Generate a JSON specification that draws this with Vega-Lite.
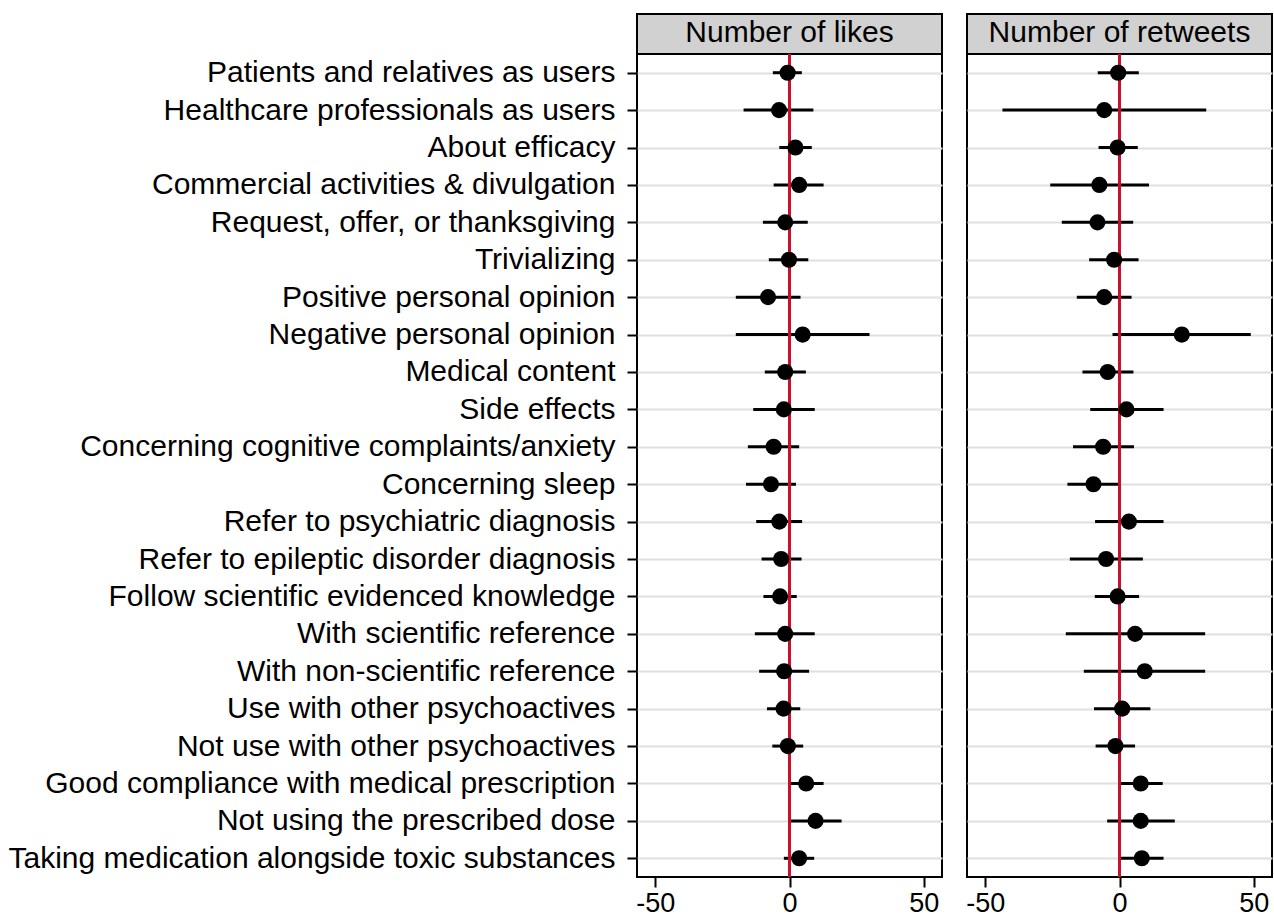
{
  "$schema": "https://vega.github.io/schema/vega-lite/v6.json",
  "padding": {"left": 6, "top": 13, "right": 1, "bottom": 2},
  "background": "white",
  "config": {
    "font": "Liberation Sans",
    "view": {"stroke": "black", "strokeWidth": 2},
    "axis": {"labelColor": "black", "tickColor": "black", "titleColor": "black"}
  },
  "datasets": {
    "est": [
      {"label": "Patients and relatives as users", "panel": "likes", "est": -0.7, "lo": -6.2, "hi": 4.6},
      {"label": "Healthcare professionals as users", "panel": "likes", "est": -3.9, "lo": -17.1, "hi": 8.9},
      {"label": "About efficacy", "panel": "likes", "est": 2.2, "lo": -3.8, "hi": 8.3},
      {"label": "Commercial activities & divulgation", "panel": "likes", "est": 3.6, "lo": -5.9, "hi": 12.7},
      {"label": "Request, offer, or thanksgiving", "panel": "likes", "est": -1.6, "lo": -9.9, "hi": 6.8},
      {"label": "Trivializing", "panel": "likes", "est": -0.2, "lo": -7.7, "hi": 7.0},
      {"label": "Positive personal opinion", "panel": "likes", "est": -8.0, "lo": -20.0, "hi": 4.1},
      {"label": "Negative personal opinion", "panel": "likes", "est": 4.9, "lo": -20.0, "hi": 29.8},
      {"label": "Medical content", "panel": "likes", "est": -1.6, "lo": -9.2, "hi": 6.1},
      {"label": "Side effects", "panel": "likes", "est": -2.1, "lo": -13.5, "hi": 9.4},
      {"label": "Concerning cognitive complaints/anxiety", "panel": "likes", "est": -5.9, "lo": -15.5, "hi": 3.6},
      {"label": "Concerning sleep", "panel": "likes", "est": -6.9, "lo": -16.2, "hi": 2.4},
      {"label": "Refer to psychiatric diagnosis", "panel": "likes", "est": -3.8, "lo": -12.4, "hi": 4.7},
      {"label": "Refer to epileptic disorder diagnosis", "panel": "likes", "est": -3.1, "lo": -10.4, "hi": 4.5},
      {"label": "Follow scientific evidenced knowledge", "panel": "likes", "est": -3.5, "lo": -9.7, "hi": 2.7},
      {"label": "With scientific reference", "panel": "likes", "est": -1.6, "lo": -12.9, "hi": 9.4},
      {"label": "With non-scientific reference", "panel": "likes", "est": -2.0, "lo": -11.3, "hi": 7.3},
      {"label": "Use with other psychoactives", "panel": "likes", "est": -2.2, "lo": -8.4, "hi": 4.0},
      {"label": "Not use with other psychoactives", "panel": "likes", "est": -0.6, "lo": -6.4, "hi": 5.1},
      {"label": "Good compliance with medical prescription", "panel": "likes", "est": 6.2, "lo": -0.2, "hi": 12.7},
      {"label": "Not using the prescribed dose", "panel": "likes", "est": 9.7, "lo": -0.5, "hi": 19.4},
      {"label": "Taking medication alongside toxic substances", "panel": "likes", "est": 3.6, "lo": -2.1, "hi": 9.2},
      {"label": "Patients and relatives as users", "panel": "retweets", "est": -0.5, "lo": -8.1, "hi": 7.2},
      {"label": "Healthcare professionals as users", "panel": "retweets", "est": -5.7, "lo": -43.6, "hi": 32.3},
      {"label": "About efficacy", "panel": "retweets", "est": -0.7, "lo": -7.8, "hi": 6.8},
      {"label": "Commercial activities & divulgation", "panel": "retweets", "est": -7.5, "lo": -25.8, "hi": 11.0},
      {"label": "Request, offer, or thanksgiving", "panel": "retweets", "est": -8.2, "lo": -21.5, "hi": 5.1},
      {"label": "Trivializing", "panel": "retweets", "est": -2.0, "lo": -11.3, "hi": 7.1},
      {"label": "Positive personal opinion", "panel": "retweets", "est": -5.7, "lo": -15.9, "hi": 4.5},
      {"label": "Negative personal opinion", "panel": "retweets", "est": 23.2, "lo": -2.6, "hi": 48.9},
      {"label": "Medical content", "panel": "retweets", "est": -4.4, "lo": -13.8, "hi": 5.2},
      {"label": "Side effects", "panel": "retweets", "est": 2.6, "lo": -10.9, "hi": 16.4},
      {"label": "Concerning cognitive complaints/anxiety", "panel": "retweets", "est": -6.1, "lo": -17.3, "hi": 5.4},
      {"label": "Concerning sleep", "panel": "retweets", "est": -9.7, "lo": -19.4, "hi": 0.0},
      {"label": "Refer to psychiatric diagnosis", "panel": "retweets", "est": 3.5, "lo": -9.1, "hi": 16.4},
      {"label": "Refer to epileptic disorder diagnosis", "panel": "retweets", "est": -5.0, "lo": -18.5, "hi": 8.7},
      {"label": "Follow scientific evidenced knowledge", "panel": "retweets", "est": -0.7, "lo": -9.2, "hi": 7.3},
      {"label": "With scientific reference", "panel": "retweets", "est": 5.8, "lo": -20.0, "hi": 31.9},
      {"label": "With non-scientific reference", "panel": "retweets", "est": 9.4, "lo": -13.3, "hi": 31.9},
      {"label": "Use with other psychoactives", "panel": "retweets", "est": 1.0, "lo": -9.5, "hi": 11.5},
      {"label": "Not use with other psychoactives", "panel": "retweets", "est": -1.5, "lo": -8.9, "hi": 5.8},
      {"label": "Good compliance with medical prescription", "panel": "retweets", "est": 7.9, "lo": 0.0, "hi": 16.1},
      {"label": "Not using the prescribed dose", "panel": "retweets", "est": 7.9, "lo": -4.6, "hi": 20.6},
      {"label": "Taking medication alongside toxic substances", "panel": "retweets", "est": 8.3, "lo": 0.2, "hi": 16.4}
    ]
  },
  "spacing": 21,
  "hconcat": [
    {
      "spacing": 0,
      "bounds": "flush",
      "vconcat": [
        {
          "width": 305,
          "height": 40,
          "view": {"fill": "#d1d1d1", "stroke": "black", "strokeWidth": 2},
          "data": {"values": [{"panel": "Number of likes"}]},
          "mark": {"type": "text", "fontSize": 30, "baseline": "middle", "dy": -1, "color": "black"},
          "encoding": {"text": {"field": "panel"}}
        },
        {
          "width": 305,
          "height": 823,
          "data": {"name": "est"},
          "transform": [{"filter": "datum.panel === 'likes'"}],
          "encoding": {
            "y": {
              "field": "label", "type": "nominal", "sort": null,
              "scale": {"type": "point", "padding": 0.5},
              "axis": {"title": null, "labelFontSize": 30, "labelPadding": 12, "tickSize": 10, "tickWidth": 2, "domain": false, "grid": true, "gridColor": "#e0e0e0", "gridWidth": 2, "labelLimit": 700}
            }
          },
          "layer": [
            {
              "mark": {"type": "rule", "color": "black", "strokeWidth": 3},
              "encoding": {
                "x": {"field": "lo", "type": "quantitative", "scale": {"domain": [-56.8, 56.8], "nice": false, "zero": false},
                  "axis": {"title": null, "values": [-50, 0, 50], "labelExpr": "'' + datum.value", "labelFontSize": 27, "tickSize": 10, "tickWidth": 2, "labelPadding": 3, "domain": false, "grid": false}},
                "x2": {"field": "hi"}
              }
            },
            {
              "mark": {"type": "rule", "color": "#c8102e", "strokeWidth": 2.5},
              "encoding": {"x": {"datum": 0}, "y": null}
            },
            {
              "mark": {"type": "circle", "color": "black", "size": 260, "opacity": 1},
              "encoding": {"x": {"field": "est", "type": "quantitative"}}
            }
          ]
        }
      ]
    },
    {
      "spacing": 0,
      "bounds": "flush",
      "vconcat": [
        {
          "width": 305,
          "height": 40,
          "view": {"fill": "#d1d1d1", "stroke": "black", "strokeWidth": 2},
          "data": {"values": [{"panel": "Number of retweets"}]},
          "mark": {"type": "text", "fontSize": 30, "baseline": "middle", "dy": -1, "color": "black"},
          "encoding": {"text": {"field": "panel"}}
        },
        {
          "width": 305,
          "height": 823,
          "data": {"name": "est"},
          "transform": [{"filter": "datum.panel === 'retweets'"}],
          "encoding": {
            "y": {
              "field": "label", "type": "nominal", "sort": null,
              "scale": {"type": "point", "padding": 0.5},
              "axis": {"title": null, "labels": false, "ticks": false, "domain": false, "grid": true, "gridColor": "#e0e0e0", "gridWidth": 2}
            }
          },
          "layer": [
            {
              "mark": {"type": "rule", "color": "black", "strokeWidth": 3},
              "encoding": {
                "x": {"field": "lo", "type": "quantitative", "scale": {"domain": [-56.8, 56.8], "nice": false, "zero": false},
                  "axis": {"title": null, "values": [-50, 0, 50], "labelExpr": "'' + datum.value", "labelFontSize": 27, "tickSize": 10, "tickWidth": 2, "labelPadding": 3, "domain": false, "grid": false}},
                "x2": {"field": "hi"}
              }
            },
            {
              "mark": {"type": "rule", "color": "#c8102e", "strokeWidth": 2.5},
              "encoding": {"x": {"datum": 0}, "y": null}
            },
            {
              "mark": {"type": "circle", "color": "black", "size": 260, "opacity": 1},
              "encoding": {"x": {"field": "est", "type": "quantitative"}}
            }
          ]
        }
      ]
    }
  ]
}
